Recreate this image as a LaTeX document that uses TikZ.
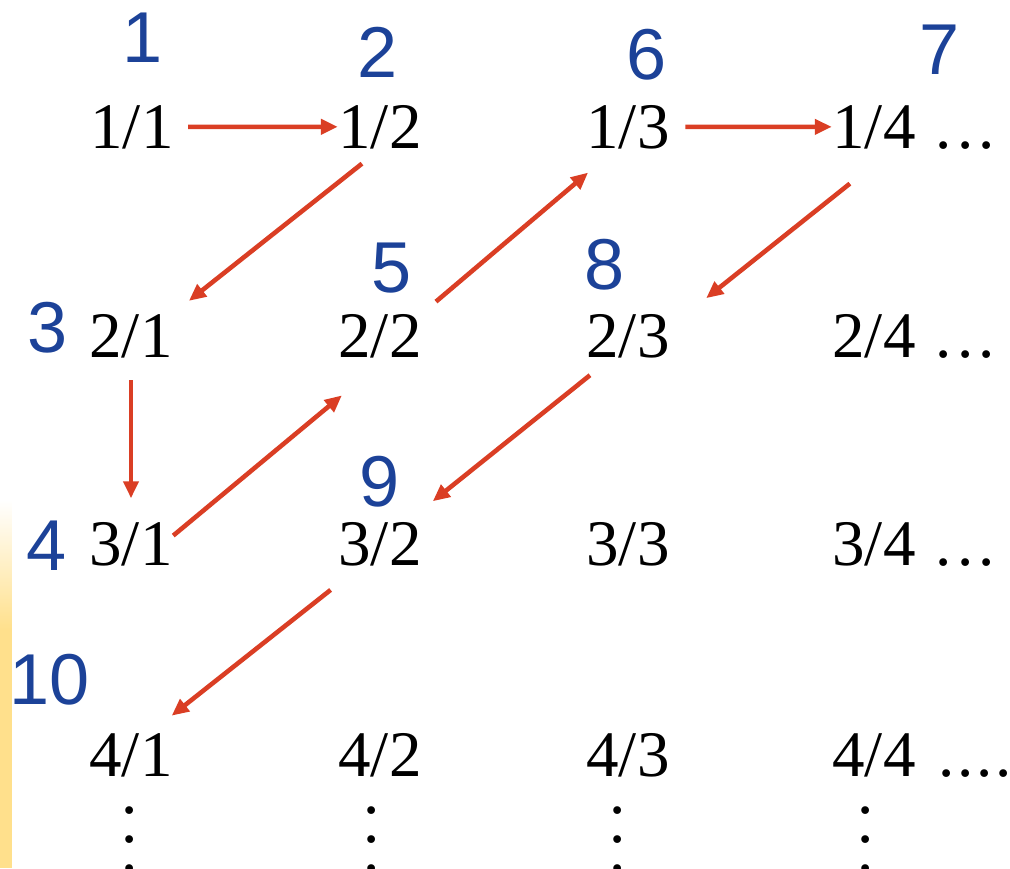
\documentclass[tikz,border=0pt]{standalone}
\usepackage{fontspec}
\setmainfont{Liberation Serif}
\newfontfamily\numfont{Liberation Sans}
\usetikzlibrary{arrows.meta,positioning}
\definecolor{numblue}{RGB}{28,66,152}
\definecolor{arrred}{RGB}{218,62,36}
\definecolor{strip}{RGB}{255,224,140}
\newcommand{\trail}{.\kern.08em.\kern.08em.}

\begin{document}
\begin{tikzpicture}[
    frac/.style={font=\fontsize{18.5}{22}\selectfont,inner sep=0pt,anchor=base},
    more/.style={font=\fontsize{18.5}{22}\selectfont,inner sep=0pt},
    num/.style={font=\numfont\fontsize{20.5}{24}\selectfont,text=numblue,
                inner sep=0pt},
    vdts/.style={font=\fontsize{18.5}{8.3}\selectfont,inner sep=0pt,
                 align=center,anchor=north},
    arr/.style={-{Triangle[length=1.7mm,width=1.5mm]},draw=arrred,
                line width=1.3pt}]
    \useasboundingbox (0,0) rectangle (10.10,-8.68);
    % side strip
    \shade[top color=white,bottom color=strip] (0,-5.0) rectangle (0.12,-6.3);
    \fill[strip] (0,-6.3) rectangle (0.12,-8.68);
    % fractions
    \node[frac] (f11) at (1.32,-1.48) {1/1};
    \node[frac] (f12) at (3.80,-1.48) {1/2};
    \node[frac] (f13) at (6.28,-1.48) {1/3};
    \node[frac] (f14) at (8.74,-1.48) {1/4};
    \node[frac] (f21) at (1.31,-3.57) {2/1};
    \node[frac] (f22) at (3.80,-3.57) {2/2};
    \node[frac] (f23) at (6.28,-3.57) {2/3};
    \node[frac] (f24) at (8.74,-3.57) {2/4};
    \node[frac] (f31) at (1.31,-5.65) {3/1};
    \node[frac] (f32) at (3.80,-5.65) {3/2};
    \node[frac] (f33) at (6.28,-5.65) {3/3};
    \node[frac] (f34) at (8.74,-5.65) {3/4};
    \node[frac] (f41) at (1.31,-7.76) {4/1};
    \node[frac] (f42) at (3.80,-7.76) {4/2};
    \node[frac] (f43) at (6.28,-7.76) {4/3};
    \node[frac] (f44) at (8.74,-7.76) {4/4};
    % trailing dots
    \node[more,base right=0.19cm of f14] (m1) {\trail};
    \node[more,base right=0.19cm of f24] (m2) {\trail};
    \node[more,base right=0.19cm of f34] (m3) {\trail};
    \node[more,base right=0.22cm of f44] (m4) {.\kern.04em.\kern.04em.\kern.04em.};
    \node[vdts] (v1) at (1.30,-8.06) {.\\.\\.};
    \node[vdts] (v2) at (3.72,-8.06) {.\\.\\.};
    \node[vdts] (v3) at (6.18,-8.06) {.\\.\\.};
    \node[vdts] (v4) at (8.66,-8.06) {.\\.\\.};
    % order numbers
    \node[num] (n1) at (1.43,-0.38) {1};
    \node[num] (n2) at (3.78,-0.52) {2};
    \node[num] (n3) at (0.48,-3.28) {3};
    \node[num] (n4) at (0.47,-5.46) {4};
    \node[num] (n5) at (3.92,-2.68) {5};
    \node[num] (n6) at (6.47,-0.55) {6};
    \node[num] (n7) at (9.40,-0.50) {7};
    \node[num] (n8) at (6.05,-2.65) {8};
    \node[num] (n9) at (3.80,-4.82) {9};
    \node[num] (n10) at (0.50,-6.80) {10};
    % zigzag path
    \draw[arr,shorten <=1.4mm] (f11.east) -- (f12.west);
    \draw[arr,shorten <=2.3mm,shorten >=2mm] (f12.south) -- (f21.north east);
    \draw[arr,shorten <=2.2mm,shorten >=2.3mm] (f21.south) -- (f31.north);
    \draw[arr,shorten >=5.8mm] (f31.11) -- (f22.286);
    \draw[arr,shorten <=1.8mm,shorten >=3.6mm] (f22.north east) -- (f13.241);
    \draw[arr,shorten <=1.5mm] (f13.east) -- (f14.west);
    \draw[arr,shorten <=5.5mm,shorten >=4.6mm] (f14.-50) -- (f23.12);
    \draw[arr,shorten <=2.7mm,shorten >=3.2mm] (f23.233) -- (f32.39);
    \draw[arr,shorten <=3.8mm,shorten >=2.7mm] (f32.229) -- (f41.49);
\end{tikzpicture}
\end{document}
